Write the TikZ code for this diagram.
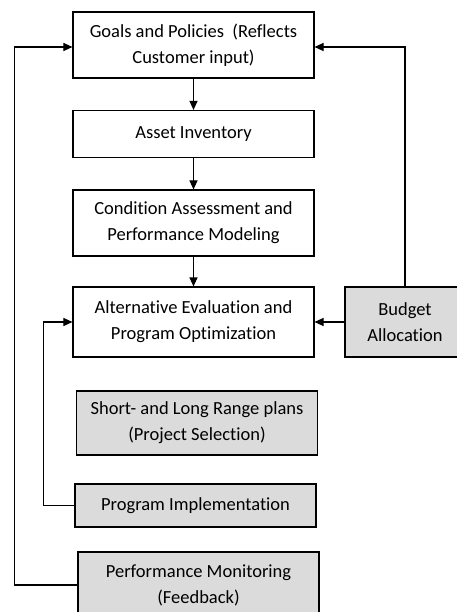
\documentclass[tikz,border=0pt]{standalone}
\usepackage{fontspec}
\setmainfont{Carlito}[Ligatures=NoCommon]
\usetikzlibrary{arrows.meta}

\begin{document}
\begin{tikzpicture}[
		stagebox/.style={rectangle,draw,minimum width=241pt,align=center,inner sep=0pt},
		greybox/.style={stagebox,fill=black!14},
		font=\fontsize{18.5}{26}\selectfont,
		line width=1.1pt,
		>={Triangle[length=9pt,width=8pt]},
		node distance=89pt
		]
		\useasboundingbox (-193.5pt,45pt) rectangle (262.5pt,-567pt);

		\node[stagebox,minimum height=66pt](goals){Goals and Policies~ (Reflects\\Customer input)};
		\node[stagebox,minimum height=47pt,below of=goals](asset){Asset Inventory};
		\node[stagebox,minimum height=66pt,below of=asset](cond){Condition Assessment and\\Performance Modeling};
		\node[stagebox,minimum height=70pt,below of=cond,yshift=-10pt](alt){Alternative Evaluation and\\Program Optimization};
		\node[greybox,minimum width=120pt,minimum height=70pt,right of=alt,xshift=122.5pt](budget){Budget\\Allocation};
		\node[greybox,minimum height=64pt,below of=alt,xshift=3.5pt,yshift=-12pt](plans){Short- and Long Range plans\\(Project Selection)};
		\node[greybox,minimum height=43pt,below of=plans,xshift=-1.5pt,yshift=6.5pt](impl){Program Implementation};
		\node[greybox,minimum height=66pt,below of=impl,xshift=3pt,yshift=9.5pt](monit){Performance Monitoring\\(Feedback)};

		\draw[->] (goals) -- (asset);
		\draw[->] (asset) -- (cond);
		\draw[->] (cond) -- (alt);
		\draw[->] (budget) -- (alt);
		\draw[->] (budget.north) |- ([yshift=-2pt]goals.east);
		\draw[->] (impl.west) -- ++(-31pt,0) |- (alt.west);
		\draw[->] (monit.west) -- ++(-63pt,0) |- ([yshift=-2pt]goals.west);
	\end{tikzpicture}
\end{document}
